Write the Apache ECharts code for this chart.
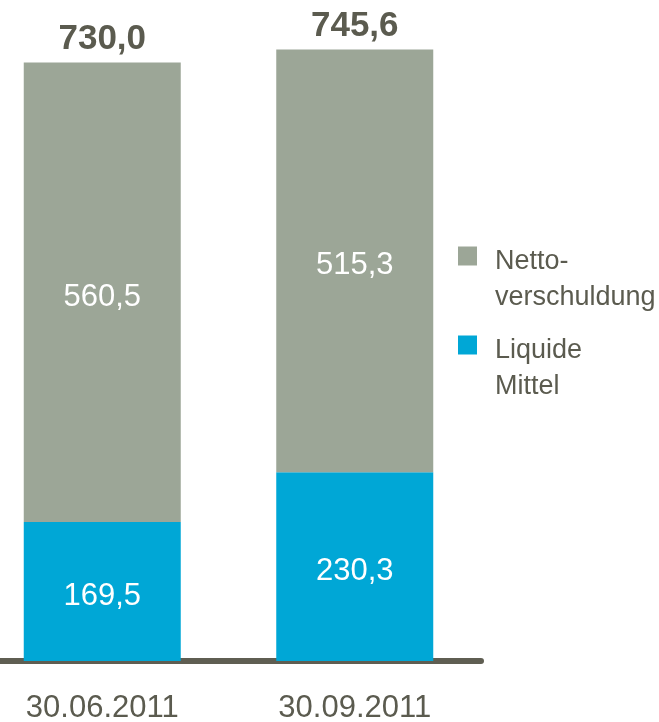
<!DOCTYPE html>
<html>
<head>
<meta charset="utf-8">
<script src="https://cdn.jsdelivr.net/npm/echarts@6/dist/echarts.min.js"></script>
<style>
  html, body { margin: 0; padding: 0; background: #fff; }
  #main { width: 659px; height: 722px; }
</style>
</head>
<body>
<div id="main"></div>
<script>
// Daten
const dates = ['30.06.2011', '30.09.2011'];
const liquide = [169.5, 230.3];
const netto = [560.5, 515.3];
const totals = [730.0, 745.6];
const legendNames = ['Netto-verschuldung', 'Liquide Mittel'];
const legendLines = {
  'Netto-verschuldung': ['Netto-', 'verschuldung'],
  'Liquide Mittel': ['Liquide', 'Mittel']
};

const FONT = "'Liberation Sans Narrow', 'Liberation Sans', Arial, sans-serif";
const DARK = '#5b5b4f';
const fmt = v => v.toFixed(1).replace('.', ',');

function legendCfg(name, top) {
  return {
    data: [name],
    left: 453, top: top,
    itemWidth: 19, itemHeight: 19,
    icon: 'rect',
    selectedMode: false,
    formatter: n => '{e| }\n{t|' + legendLines[n][0] + '}\n{t|' + legendLines[n][1] + '}',
    textStyle: {
      fontFamily: FONT, fontSize: 27, color: DARK,
      rich: {
        e: { fontSize: 10, lineHeight: 48, padding: [0, 0, 0, 13] },
        t: { fontFamily: FONT, fontSize: 27, color: DARK, lineHeight: 36, padding: [0, 0, 0, 13] }
      }
    }
  };
}

const chart = echarts.init(document.getElementById('main'));
chart.setOption({
  animation: false,
  grid: { left: -24, right: 178, top: 5, bottom: 61, outerBoundsMode: 'none' },
  legend: [legendCfg(legendNames[0], 210), legendCfg(legendNames[1], 299)],
  xAxis: {
    type: 'category',
    data: dates,
    axisTick: { show: false },
    axisLine: { lineStyle: { color: '#5f5e52', width: 6 } },
    axisLabel: { fontFamily: FONT, fontSize: 31, color: DARK, margin: 32 }
  },
  yAxis: {
    type: 'value',
    min: 0, max: 800,
    show: false
  },
  series: [
    {
      name: legendNames[1],
      type: 'bar',
      stack: 'a',
      barWidth: 157,
      data: liquide,
      itemStyle: { color: '#00a7d6' },
      label: {
        show: true, position: 'inside', offset: [0, 5],
        fontFamily: FONT, fontSize: 31, color: '#fff',
        formatter: p => fmt(p.value)
      }
    },
    {
      name: legendNames[0],
      type: 'bar',
      stack: 'a',
      barWidth: 157,
      data: netto,
      itemStyle: { color: '#9ca697' },
      label: {
        show: true, position: 'inside', offset: [0, 5],
        fontFamily: FONT, fontSize: 31, color: '#fff',
        formatter: p => fmt(p.value)
      }
    },
    {
      name: 'Summe',
      type: 'bar',
      stack: 'a',
      barWidth: 157,
      data: totals.map(() => 0),
      itemStyle: { color: 'transparent' },
      label: {
        show: true, position: 'top', distance: 6,
        fontFamily: FONT, fontSize: 35, fontWeight: 'bold', color: DARK,
        formatter: p => fmt(totals[p.dataIndex])
      }
    }
  ]
});
</script>
</body>
</html>
